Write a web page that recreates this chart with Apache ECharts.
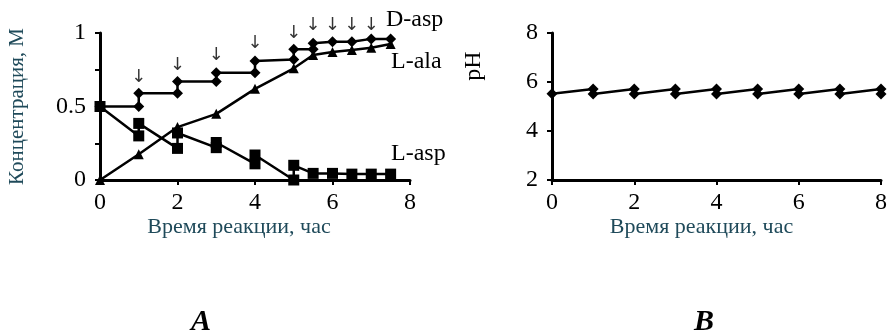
<!DOCTYPE html>
<html><head><meta charset="utf-8">
<script src="https://cdn.jsdelivr.net/npm/echarts@6/dist/echarts.min.js"></script>
<style>html,body{margin:0;padding:0;background:#fff}#c{width:890px;height:335px}</style>
</head><body><div id="c"></div>
<script>
// ---- Data ----
const dAspX = [0, 1, 1, 2, 2, 3, 3, 4, 4, 5, 5, 5.5, 5.5, 6, 6.5, 7, 7.5];
const dAspY = [0.50, 0.50, 0.59, 0.59, 0.67, 0.67, 0.73, 0.73, 0.81, 0.82, 0.89, 0.89, 0.93, 0.94, 0.94, 0.96, 0.96];
const lAlaX = [0, 1, 2, 3, 4, 5, 5.5, 6, 6.5, 7, 7.5];
const lAlaY = [0, 0.175, 0.36, 0.45, 0.62, 0.76, 0.85, 0.87, 0.885, 0.90, 0.925];
const lAspX = [0, 1, 1, 2, 2, 3, 3, 4, 4, 5, 5, 5.5, 6, 6.5, 7, 7.5];
const lAspY = [0.50, 0.30, 0.385, 0.215, 0.32, 0.22, 0.255, 0.11, 0.17, 0.0, 0.10, 0.045, 0.045, 0.04, 0.04, 0.04];
const arrowX = [1, 2, 3, 4, 5, 5.5, 6, 6.5, 7];
const arrowY = [0.70, 0.78, 0.85, 0.93, 1.00, 1.05, 1.05, 1.05, 1.05];
const phX = [0, 1, 1, 2, 2, 3, 3, 4, 4, 5, 5, 6, 6, 7, 7, 8, 8];
const phY = [5.52, 5.71, 5.51, 5.71, 5.51, 5.71, 5.51, 5.71, 5.51, 5.71, 5.51, 5.71, 5.51, 5.71, 5.51, 5.71, 5.51];
const seriesNames = ['D-asp', 'L-ala', 'L-asp'];
const yNameA = 'Концентрация, М';
const yNameB = 'pH';
const xName = 'Время реакции, час';
const panelLabels = ['A', 'B'];

const zip = (xs, ys) => xs.map((x, i) => [x, ys[i]]);
const FONT = 'Liberation Serif';
const TEAL = '#1f4a5a';

const axisBase = {
  axisLine: { show: true, onZero: false, lineStyle: { color: '#000', width: 3 } },
  axisTick: { show: true, length: 5, lineStyle: { color: '#000', width: 2 } },
  splitLine: { show: false },
  axisLabel: { color: '#000', fontFamily: FONT, fontSize: 24, margin: 11 }
};

const lineSeries = (name, data, symbol, size, xi) => ({
  name, type: 'line', data, xAxisIndex: xi, yAxisIndex: xi,
  symbol, symbolSize: size, showSymbol: true,
  lineStyle: { color: '#000', width: 2.5 }, itemStyle: { color: '#000' },
  animation: false, z: 3
});

const chart = echarts.init(document.getElementById('c'));
chart.setOption({
  animation: false,
  grid: [
    { left: 100, top: 33, width: 310, height: 147 },
    { left: 552, top: 33, width: 333, height: 147 }
  ],
  xAxis: [
    Object.assign({}, axisBase, { gridIndex: 0, type: 'value', min: 0, max: 8, interval: 2,
      name: xName, nameLocation: 'middle', nameGap: 31,
      nameTextStyle: { color: TEAL, fontFamily: FONT, fontSize: 22, padding: [0, 32, 0, 0] } }),
    Object.assign({}, axisBase, { gridIndex: 1, type: 'value', min: 0, max: 8, interval: 2,
      name: xName, nameLocation: 'middle', nameGap: 36,
      nameTextStyle: { color: TEAL, fontFamily: FONT, fontSize: 22, padding: [0, 30, 0, 0] } })
  ],
  yAxis: [
    Object.assign({}, axisBase, { gridIndex: 0, type: 'value', min: 0, max: 1, interval: 0.25,
      axisLabel: Object.assign({}, axisBase.axisLabel, { margin: 14,
        formatter: v => (Math.round(v * 4) % 2 === 0 ? String(v) : '') }),
      name: yNameA, nameLocation: 'middle', nameGap: 72, nameRotate: 90,
      nameTextStyle: { color: TEAL, fontFamily: FONT, fontSize: 21 } }),
    Object.assign({}, axisBase, { gridIndex: 1, type: 'value', min: 2, max: 8, interval: 2,
      axisLabel: Object.assign({}, axisBase.axisLabel, { margin: 14 }) })
  ],
  graphic: [
    { type: 'text', left: 386, top: 8, style: { text: seriesNames[0], font: '24px "Liberation Serif"', fill: '#000' } },
    { type: 'text', left: 391, top: 50, style: { text: seriesNames[1], font: '24px "Liberation Serif"', fill: '#000' } },
    { type: 'text', left: 391, top: 142, style: { text: seriesNames[2], font: '24px "Liberation Serif"', fill: '#000' } },
    { type: 'text', x: 474, y: 66, rotation: Math.PI / 2, style: { text: yNameB, font: '24px "Liberation Serif"', fill: '#000', align: 'center', verticalAlign: 'middle' } },
    { type: 'text', x: 201, y: 322, style: { text: panelLabels[0], font: 'italic bold 30px "Liberation Serif"', fill: '#000', align: 'center', verticalAlign: 'middle' } },
    { type: 'text', x: 704, y: 322, style: { text: panelLabels[1], font: 'italic bold 30px "Liberation Serif"', fill: '#000', align: 'center', verticalAlign: 'middle' } }
  ],
  series: [
    lineSeries(seriesNames[0], zip(dAspX, dAspY), 'diamond', 11, 0),
    lineSeries(seriesNames[1], zip(lAlaX, lAlaY), 'triangle', 10, 0),
    lineSeries(seriesNames[2], zip(lAspX, lAspY), 'rect', 11, 0),
    {
      type: 'scatter', xAxisIndex: 0, yAxisIndex: 0, clip: false,
      data: zip(arrowX, arrowY), symbolSize: 1, itemStyle: { color: 'rgba(0,0,0,0)' },
      label: { show: true, position: 'inside', formatter: '↓', color: '#000',
        fontFamily: 'DejaVu Sans', fontSize: 18 },
      silent: true, animation: false
    },
    lineSeries('pH', zip(phX, phY), 'diamond', 11, 1)
  ]
});
</script></body></html>
